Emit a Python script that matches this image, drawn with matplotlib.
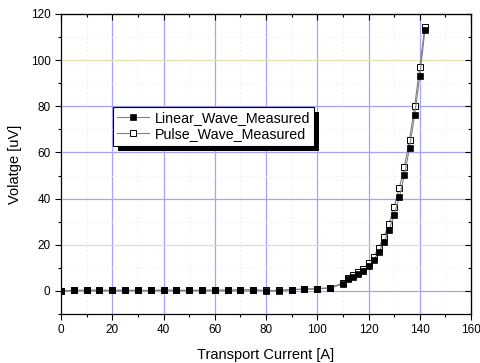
import matplotlib
matplotlib.use("Agg")
import matplotlib.pyplot as plt
from matplotlib.patches import Rectangle
from matplotlib.ticker import MultipleLocator

plt.rcParams['font.family'] = ['Liberation Sans', 'DejaVu Sans']

# Data
current = [0, 5, 10, 15, 20, 25, 30, 35, 40, 45, 50, 55, 60, 65, 70, 75, 80, 85,
           90, 95, 100, 105, 110, 112, 114, 116, 118, 120, 122, 124, 126, 128,
           130, 132, 134, 136, 138, 140, 142]
linear_wave = [0.1, 0.2, 0.3, 0.3, 0.2, 0.3, 0.2, 0.2, 0.3, 0.3, 0.2, 0.3, 0.3, 0.3,
               0.4, 0.4, 0.1, 0.1, 0.5, 0.7, 0.9, 1.2, 3.0, 5.1, 6.2, 7.4, 8.8,
               10.8, 13.4, 16.9, 21.2, 26.3, 33.0, 40.6, 50.1, 62.0, 76.1, 93.0, 113.0]
pulse_wave = [0.1, 0.2, 0.3, 0.3, 0.2, 0.3, 0.2, 0.2, 0.3, 0.3, 0.2, 0.3, 0.3, 0.3,
              0.4, 0.4, 0.2, 0.2, 0.6, 0.8, 1.0, 1.4, 3.4, 5.6, 6.8, 8.1, 9.6,
              11.9, 14.8, 18.7, 23.4, 29.0, 36.5, 44.5, 53.8, 65.5, 80.0, 97.0, 114.5]

fig = plt.figure(figsize=(4.8, 3.63), dpi=100)
ax = fig.add_axes([61/480, 1-314/363, 410/480, 300/363])

ax.set_xlim(0, 160)
ax.set_ylim(-10, 120)
ax.xaxis.set_major_locator(MultipleLocator(20))
ax.xaxis.set_minor_locator(MultipleLocator(10))
ax.yaxis.set_major_locator(MultipleLocator(20))
ax.yaxis.set_minor_locator(MultipleLocator(10))

# grids
for xv in range(20, 160, 20):
    ax.axvline(xv, color='#a4a4f4', lw=0.9, zorder=0)
for yv in range(0, 120, 20):
    c = '#e2e2b0' if yv in (20, 100) else '#a4a4f4'
    ax.axhline(yv, color=c, lw=0.9, zorder=0)
for xv in range(10, 160, 20):
    ax.axvline(xv, color='#ededf2', lw=0.6, ls=(0, (2, 3)), zorder=0)
for yv in range(10, 120, 20):
    ax.axhline(yv, color='#ededf2', lw=0.6, ls=(0, (2, 3)), zorder=0)

ax.plot(current, pulse_wave, color='#808080', lw=0.8, marker='s', ms=4.5,
        mfc='white', mec='black', mew=0.7, label='Pulse_Wave_Measured', zorder=3)
ax.plot(current, linear_wave, color='#808080', lw=0.8, marker='s', ms=4.8,
        mfc='black', mec='black', mew=0.5, label='Linear_Wave_Measured', zorder=4)

ax.tick_params(which='both', labelsize=8.5, width=0.8)
ax.tick_params(which='major', length=4)
ax.tick_params(which='minor', length=2.5)
ax.tick_params(axis='x', which='both', direction='out', top=False)
ax.tick_params(axis='y', which='both', direction='out', right=False)
ax2 = ax.secondary_xaxis('top')
ax2.xaxis.set_major_locator(MultipleLocator(20))
ax2.xaxis.set_minor_locator(MultipleLocator(10))
ax2.tick_params(which='both', direction='in', labeltop=False, width=0.8)
ax2.tick_params(which='major', length=4)
ax2.tick_params(which='minor', length=2.5)
ay2 = ax.secondary_yaxis('right')
ay2.yaxis.set_major_locator(MultipleLocator(20))
ay2.yaxis.set_minor_locator(MultipleLocator(10))
ay2.tick_params(which='both', direction='in', labelright=False, width=0.8)
ay2.tick_params(which='major', length=4)
ay2.tick_params(which='minor', length=2.5)

for s in ax.spines.values():
    s.set_linewidth(0.9)

ax.set_xlabel('Transport Current [A]', fontsize=10.5, labelpad=8)
ax.set_ylabel('Volatge [uV]', fontsize=10.5, labelpad=6)

handles, labels = ax.get_legend_handles_labels()
leg = ax.legend(handles[::-1], labels[::-1], loc='upper left',
                bbox_to_anchor=(0.127, 0.69), fontsize=10.3, frameon=True,
                fancybox=False, edgecolor='black', framealpha=1,
                borderpad=0.3, labelspacing=0.15, handlelength=2.2,
                handletextpad=0.4, borderaxespad=0)
leg.get_frame().set_linewidth(0.8)
leg.get_frame().set_edgecolor('black')
leg.set_zorder(10)

fig.canvas.draw()
bb = leg.get_window_extent().transformed(fig.transFigure.inverted())
off_x = 5 / 480
off_y = 5 / 363
shadow = Rectangle((bb.x0 + off_x, bb.y0 - off_y), bb.width, bb.height,
                   transform=fig.transFigure, facecolor='black', edgecolor='none',
                   zorder=9)
ax.add_artist(shadow)
shadow.set_clip_on(False)

fig.savefig('out.png', dpi=100)
